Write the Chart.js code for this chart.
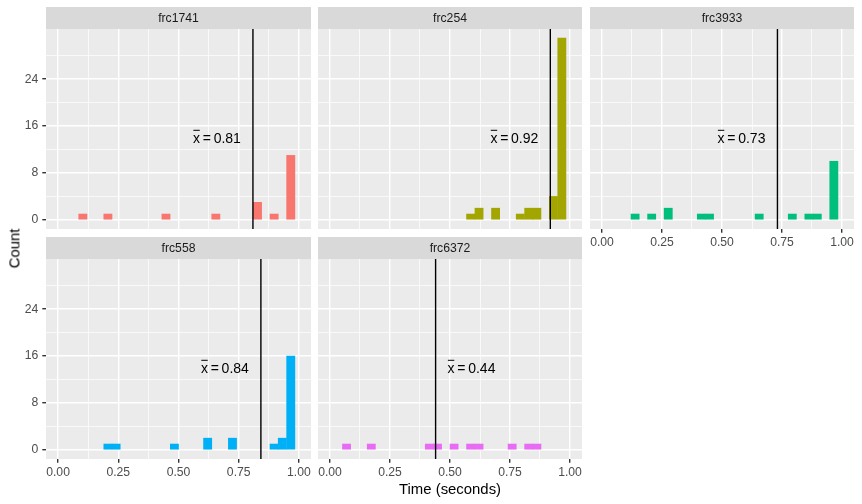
<!DOCTYPE html>
<html>
<head>
<meta charset="utf-8">
<script src="https://cdn.jsdelivr.net/npm/chart.js@4.4.1/dist/chart.umd.min.js"></script>
<style>
  body { margin: 0; background: #fff; }
  #wrap { position: relative; width: 862px; height: 504px; font-family: "Liberation Sans", Arial, sans-serif; }
  canvas { position: absolute; }
  .ttl { position: absolute; font-size: 14.9px; color: #000; white-space: nowrap; line-height: 1; }
</style>
</head>
<body>
<div id="wrap">
  <canvas id="p0"></canvas>
  <canvas id="p1"></canvas>
  <canvas id="p2"></canvas>
  <canvas id="p3"></canvas>
  <canvas id="p4"></canvas>
  <div class="ttl" id="xtitle">Time (seconds)</div>
  <div class="ttl" id="ytitle">Count</div>
</div>
<script>
// facets and data (30 bins, counts)
const facetNames = ["frc1741", "frc254", "frc3933", "frc558", "frc6372"];
const binCenters = [0.000, 0.034, 0.069, 0.103, 0.138, 0.172, 0.207, 0.241, 0.276, 0.310,
                    0.345, 0.379, 0.414, 0.448, 0.483, 0.517, 0.552, 0.586, 0.621, 0.655,
                    0.690, 0.724, 0.759, 0.793, 0.828, 0.862, 0.897, 0.931, 0.966, 1.000];
const counts1741 = [0,0,0,1,0,0,1,0,0,0, 0,0,0,1,0,0,0,0,0,1, 0,0,0,0,3,0,1,0,11,0];
const counts254  = [0,0,0,0,0,0,0,0,0,0, 0,0,0,0,0,0,0,1,2,0, 2,0,0,1,2,2,0,4,31,0];
const counts3933 = [0,0,0,0,1,0,1,0,2,0, 0,0,1,1,0,0,0,0,0,1, 0,0,0,1,0,1,1,0,10,0];
const counts558  = [0,0,0,0,0,0,1,1,0,0, 0,0,0,0,1,0,0,0,2,0, 0,2,0,0,0,0,1,2,16,0];
const counts6372 = [0,0,1,0,0,1,0,0,0,0, 0,0,1,1,0,1,0,1,1,0, 0,0,1,0,1,1,0,0,0,0];
const allCounts = [counts1741, counts254, counts3933, counts558, counts6372];
const meanValues = [0.809, 0.918, 0.731, 0.842, 0.440];
const labelSide = ["left", "left", "left", "left", "right"]; // which side of the line the label sits
const labelY = 14;
const xMajor = [0, 0.25, 0.5, 0.75, 1];
const xMinor = [0.125, 0.375, 0.625, 0.875];
const yMajor = [0, 8, 16, 24];
const yMinor = [4, 12, 20, 28];

const colors = ["#F8766D", "#A3A500", "#00BF7D", "#00B0F6", "#E76BF3"];
const FONT = '"Liberation Sans", Arial, sans-serif';
Chart.defaults.font.family = FONT;

// panel boxes on the page
const cols = [[46, 311], [318, 582], [590, 854]];
const rows = [[7, 29, 229], [237, 259, 459]]; // strip top, plot top, plot bottom
const panels = [
  { c: 0, r: 0, yAxis: true,  xAxis: false },
  { c: 1, r: 0, yAxis: false, xAxis: false },
  { c: 2, r: 0, yAxis: false, xAxis: true },
  { c: 0, r: 1, yAxis: true,  xAxis: true },
  { c: 1, r: 1, yAxis: false, xAxis: true }
];
const Y_AXIS_W = 46, X_AXIS_H = 24, STRIP_H = 22;

const panelPlugin = {
  id: "panelDeco",
  beforeDraw(chart, args, opts) {
    const { ctx, chartArea: a } = chart;
    ctx.save();
    ctx.fillStyle = "#EBEBEB";
    ctx.fillRect(a.left, a.top, a.right - a.left, a.bottom - a.top);
    ctx.fillStyle = "#D9D9D9";
    ctx.fillRect(a.left, a.top - STRIP_H, a.right - a.left, STRIP_H);
    ctx.fillStyle = "#1A1A1A";
    ctx.font = "12.2px " + FONT;
    ctx.textAlign = "center";
    ctx.textBaseline = "middle";
    ctx.fillText(opts.name, (a.left + a.right) / 2, a.top - STRIP_H / 2 + 0.5);
    ctx.restore();
  },
  afterDatasetsDraw(chart, args, opts) {
    const { ctx, chartArea: a, scales } = chart;
    const xp = scales.x.getPixelForValue(opts.mean);
    ctx.save();
    ctx.strokeStyle = "#000";
    ctx.lineWidth = 1.4;
    ctx.beginPath();
    ctx.moveTo(xp, a.top);
    ctx.lineTo(xp, a.bottom);
    ctx.stroke();

    // x-bar = value label
    ctx.font = "14px " + FONT;
    ctx.fillStyle = "#000";
    ctx.textBaseline = "alphabetic";
    ctx.textAlign = "left";
    const numTxt = opts.mean.toFixed(2);
    const wx = ctx.measureText("x").width;
    const we = ctx.measureText("=").width;
    const wn = ctx.measureText(numTxt).width;
    const gap = 2.7;
    const total = wx + gap + we + gap + wn;
    const off = scales.x.getPixelForValue(0.05) - scales.x.getPixelForValue(0);
    const x0 = opts.side === "left" ? xp - off - total : xp + off;
    const base = scales.y.getPixelForValue(labelY) + 5;
    ctx.fillText("x", x0, base);
    ctx.fillText("=", x0 + wx + gap, base);
    ctx.fillText(numTxt, x0 + wx + gap + we + gap, base);
    ctx.lineWidth = 1;
    ctx.beginPath();
    ctx.moveTo(x0 + 0.3, base - 12.5);
    ctx.lineTo(x0 + wx - 0.3, base - 12.5);
    ctx.stroke();
    ctx.restore();
  }
};

panels.forEach((p, i) => {
  const [L, R] = cols[p.c];
  const [ST, T, B] = rows[p.r];
  const yw = p.yAxis ? Y_AXIS_W : 0;
  const xh = p.xAxis ? X_AXIS_H : 0;
  const cv = document.getElementById("p" + i);
  cv.width = R - (L - yw);
  cv.height = (B + xh) - ST;
  cv.style.left = (L - yw) + "px";
  cv.style.top = ST + "px";

  new Chart(cv, {
    type: "bar",
    data: {
      datasets: [{
        // empty bins are left out (null) so nothing is drawn there
        data: binCenters.map((x, k) => ({ x: x, y: allCounts[i][k] || null })),
        backgroundColor: colors[i],
        borderWidth: 0,
        barPercentage: 1,
        categoryPercentage: 1
      }]
    },
    options: {
      responsive: false,
      animation: false,
      devicePixelRatio: 1,
      layout: { padding: { top: STRIP_H, left: 0, right: 0, bottom: 0 } },
      plugins: {
        legend: { display: false },
        tooltip: { enabled: false },
        panelDeco: { name: facetNames[i], mean: meanValues[i], side: labelSide[i] }
      },
      scales: {
        x: {
          type: "linear",
          offset: false,
          min: -0.05,
          max: 1.05,
          afterBuildTicks: s => { s.ticks = xMajor.concat(xMinor).sort((a, b) => a - b).map(v => ({ value: v })); },
          afterFit: s => { s.height = xh; s.paddingLeft = 0; s.paddingRight = 0; },
          border: { display: false },
          grid: {
            offset: false,
            color: "#FFFFFF",
            lineWidth: c => (c.tick && xMajor.includes(c.tick.value)) ? 1.4 : 0.7,
            drawTicks: p.xAxis,
            tickLength: 3.7,
            tickWidth: 1.4,
            tickColor: c => (c.tick && xMajor.includes(c.tick.value)) ? "#333333" : "rgba(0,0,0,0)"
          },
          ticks: {
            display: p.xAxis,
            autoSkip: false,
            maxRotation: 0,
            padding: 2.5,
            color: "#4D4D4D",
            font: { size: 12.2 },
            callback: v => xMajor.includes(v) ? v.toFixed(2) : ""
          }
        },
        y: {
          type: "linear",
          min: -1.55,
          max: 32.55,
          afterBuildTicks: s => { s.ticks = yMajor.concat(yMinor).sort((a, b) => a - b).map(v => ({ value: v })); },
          afterFit: s => { s.width = yw; s.paddingTop = 0; s.paddingBottom = 0; },
          border: { display: false },
          grid: {
            color: "#FFFFFF",
            lineWidth: c => (c.tick && yMajor.includes(c.tick.value)) ? 1.4 : 0.7,
            drawTicks: p.yAxis,
            tickLength: 3.7,
            tickWidth: 1.4,
            tickColor: c => (c.tick && yMajor.includes(c.tick.value)) ? "#333333" : "rgba(0,0,0,0)"
          },
          ticks: {
            display: p.yAxis,
            autoSkip: false,
            padding: 4,
            color: "#4D4D4D",
            font: { size: 12.2 },
            callback: v => yMajor.includes(v) ? String(v) : ""
          }
        }
      }
    },
    plugins: [panelPlugin]
  });
});

// axis titles
const xt = document.getElementById("xtitle");
xt.style.left = (450 - xt.offsetWidth / 2) + "px";
xt.style.top = (489 - xt.offsetHeight / 2) + "px";
const yt = document.getElementById("ytitle");
yt.style.left = (15 - yt.offsetWidth / 2) + "px";
yt.style.top = (248 - yt.offsetHeight / 2) + "px";
yt.style.transform = "rotate(-90deg)";
</script>
</body>
</html>
